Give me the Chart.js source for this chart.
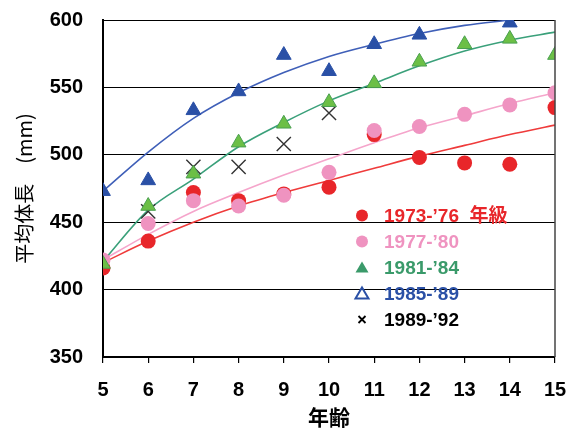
<!DOCTYPE html>
<html>
<head>
<meta charset="utf-8">
<script src="https://cdn.jsdelivr.net/npm/chart.js@4"></script>
<style>
  html, body { margin: 0; padding: 0; background: #fff; }
  #wrap { width: 580px; height: 428px; }
</style>
</head>
<body>
<div id="wrap"><canvas id="c" width="580" height="428"></canvas></div>
<script>
// ages (x) and tick values
const ages = [5, 6, 7, 8, 9, 10, 11, 12, 13, 14, 15];
const yTicks = [350, 400, 450, 500, 550, 600];

// observed mean body length (mm) per cohort
const s7376 = [416, 436, 472, 466, 471, 476, 515, 498, 494, 493, 535];
const s7780 = [422, 449, 466, 462, 470, 487, 518, 521, 530, 537, 546];
const s8184 = [419, 462, 486, 509, 523, 539, 553, 569, 582, 586, 574];
const s8589 = [473, 481, 533, 547, 574, 562, 582, 589, null, 598, null];
const s8992 = [null, 458, 491, 491, 508, 531, null, null, null, null, null];

// fitted growth curves
const fit7376 = [420, 436, 450, 462, 472, 481, 490, 499, 507, 515, 522];
const fit7780 = [422, 441, 458, 472, 485, 497, 509, 520, 529, 538, 546];
const fit8184 = [421, 459, 482, 506, 524, 540, 553, 566, 577, 585, 591];
const fit8589 = [473, 502, 527, 546, 561, 573, 582, 590, 596, 600, null];

const seriesLabels = ["1973-’76  年級", "1977-’80", "1981-’84", "1985-’89", "1989-’92"];

const RED = '#e8262a', PINK = '#ef93c0', GREEN = '#6cbf46', GREEN_D = '#3a9a6a',
      BLUE = '#2a50a6', BLACK = '#333';

function pts(arr) {
  return ages.map((a, i) => ({ x: a, y: arr[i] })).filter(p => p.y !== null);
}

function fitLine(arr, color) {
  return {
    data: pts(arr), borderColor: color, borderWidth: 1.6, pointRadius: 0,
    showLine: true, cubicInterpolationMode: 'monotone', fill: false, order: 10
  };
}

const legendPlugin = {
  id: 'legendBox',
  afterDatasetsDraw(chart) {
    const { ctx, chartArea } = chart;
    const mx = chartArea.left + 259, tx = chartArea.left + 281;
    const y0 = chartArea.top + 195.5, dy = 26;
    const colors = [RED, PINK, GREEN_D, BLUE, '#000'];
    ctx.save();
    // right border of the frame
    ctx.strokeStyle = '#444';
    ctx.lineWidth = 1.5;
    ctx.beginPath();
    ctx.moveTo(chartArea.right, chartArea.top);
    ctx.lineTo(chartArea.right, chartArea.bottom);
    ctx.stroke();

    seriesLabels.forEach((lab, i) => {
      const y = y0 + i * dy;
      ctx.fillStyle = colors[i];
      ctx.strokeStyle = colors[i];
      ctx.lineWidth = 2;
      if (i < 2) {
        ctx.beginPath(); ctx.arc(mx, y, 6, 0, Math.PI * 2); ctx.fill();
      } else if (i < 4) {
        ctx.beginPath();
        ctx.moveTo(mx, y - 6); ctx.lineTo(mx + 6.5, y + 5); ctx.lineTo(mx - 6.5, y + 5);
        ctx.closePath();
        if (i === 2) ctx.fill(); else ctx.stroke();
      } else {
        ctx.lineWidth = 1.8;
        ctx.beginPath();
        ctx.moveTo(mx - 3.5, y - 3.5); ctx.lineTo(mx + 3.5, y + 3.5);
        ctx.moveTo(mx + 3.5, y - 3.5); ctx.lineTo(mx - 3.5, y + 3.5);
        ctx.stroke();
      }
      ctx.font = 'bold 19px "Liberation Sans", "Noto Sans CJK JP", sans-serif';
      ctx.textBaseline = 'middle';
      ctx.textAlign = 'left';
      ctx.fillText(lab, tx, y + 1);
    });
    ctx.restore();
  }
};

new Chart(document.getElementById('c'), {
  type: 'scatter',
  data: {
    datasets: [
      { data: pts(s8589), pointStyle: 'triangle', pointRadius: 8.5, backgroundColor: BLUE, borderColor: BLUE, borderWidth: 1, order: 1 },
      { data: pts(s8184), pointStyle: 'triangle', pointRadius: 8.5, backgroundColor: GREEN, borderColor: '#4aa050', borderWidth: 1, order: 2 },
      { data: pts(s7780), pointStyle: 'circle', pointRadius: 7.5, backgroundColor: PINK, borderColor: PINK, borderWidth: 0, order: 3 },
      { data: pts(s7376), pointStyle: 'circle', pointRadius: 7.5, backgroundColor: RED, borderColor: RED, borderWidth: 0, order: 4 },
      { data: pts(s8992), pointStyle: 'crossRot', pointRadius: 10, borderColor: BLACK, borderWidth: 1.4, order: 5 },
      fitLine(fit8589, '#3f5fb8'),
      fitLine(fit8184, '#3aa07a'),
      fitLine(fit7780, '#f5a5cb'),
      fitLine(fit7376, '#ef3b3b')
    ]
  },
  options: {
    responsive: false,
    animation: false,
    layout: { padding: { left: 0, top: 20, right: 25, bottom: 0 } },
    plugins: { legend: { display: false }, tooltip: { enabled: false } },
    scales: {
      x: {
        type: 'linear', min: 5, max: 15,
        afterFit(s) { s.height = 71; },
        ticks: { stepSize: 1, color: '#000', padding: 3,
                 font: { family: '"Liberation Sans", Arial, sans-serif', weight: 'bold', size: 20, lineHeight: 2.4 } },
        grid: { drawOnChartArea: false, drawTicks: true, tickLength: 6, color: '#000', lineWidth: 1.2 },
        border: { color: '#000', width: 2 },
        title: { display: true, text: '年齢', color: '#000', padding: { top: 0, bottom: 0 },
                 font: { family: '"Noto Sans CJK JP", sans-serif', weight: 'bold', size: 21, lineHeight: 1 } }
      },
      y: {
        min: 350, max: 600,
        afterFit(s) { s.width = 103; },
        afterBuildTicks(s) { s.ticks = yTicks.map(v => ({ value: v })); },
        ticks: { color: '#000', padding: 3,
                 font: { family: '"Liberation Sans", Arial, sans-serif', weight: 'bold', size: 20 } },
        grid: { drawTicks: true, tickLength: 17, tickColor: 'rgba(0,0,0,0)', color: '#000', lineWidth: 1 },
        border: { color: '#000', width: 2 },
        title: { display: true, text: '平均体長　(mm)', color: '#000', padding: { top: 12, bottom: 0 },
                 font: { family: '"Noto Sans CJK JP", sans-serif', size: 20, lineHeight: 1.2 } }
      }
    }
  },
  plugins: [legendPlugin]
});
</script>
</body>
</html>
